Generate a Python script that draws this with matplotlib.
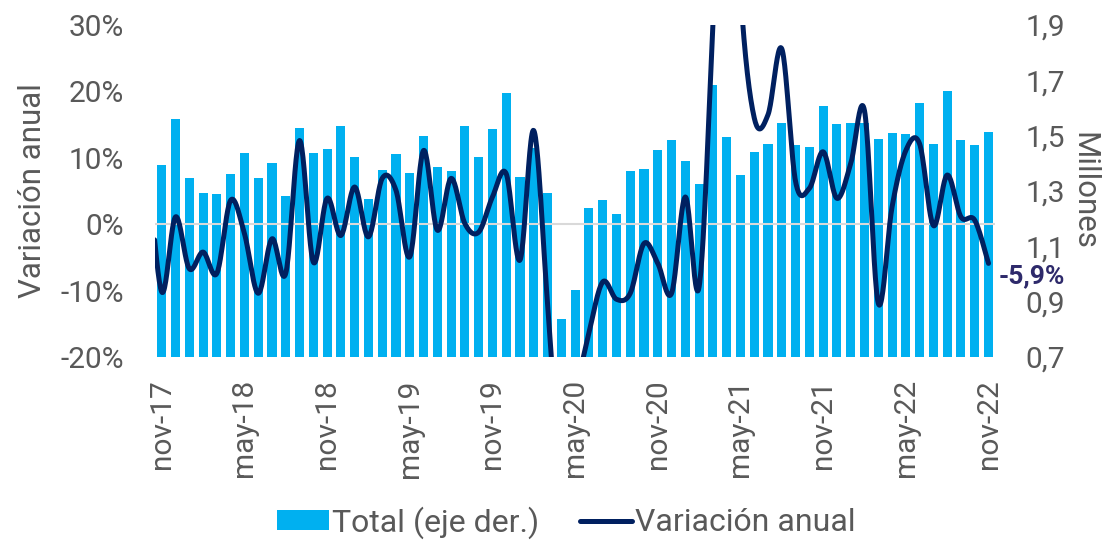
import matplotlib.pyplot as plt
import numpy as np

plt.rcParams['font.family'] = ['Roboto', 'DejaVu Sans']

# Datos: nov-17 a nov-22 (mensual)
meses = ["nov-17", "may-18", "nov-18", "may-19", "nov-19", "may-20",
         "nov-20", "may-21", "nov-21", "may-22", "nov-22"]

total = [1.395, 1.559, 1.347, 1.293, 1.288, 1.361, 1.437, 1.346, 1.400, 1.283,
         1.528, 1.437, 1.451, 1.536, 1.424, 1.270, 1.376, 1.434, 1.366, 1.499,
         1.388, 1.371, 1.535, 1.424, 1.523, 1.654, 1.349, 1.454, 1.294, 0.837,
         0.941, 1.237, 1.266, 1.217, 1.372, 1.379, 1.447, 1.483, 1.408, 1.324,
         1.684, 1.495, 1.359, 1.442, 1.470, 1.545, 1.466, 1.459, 1.608, 1.542,
         1.545, 1.545, 1.488, 1.510, 1.507, 1.618, 1.470, 1.661, 1.483, 1.467,
         1.513]

# variacion anual (%), el primer valor es oct-17 (fuera del grafico)
variacion = [9.0,
             -10.2, 1.1, -6.7, -4.2, -7.4, 3.6, -1.4, -10.4, -2.2, -7.4,
             12.6, -5.7, 3.9, -1.7, 5.6, -1.9, 6.9, 5.1, -4.9, 11.1,
             -0.9, 6.9, 0.1, -1.2, 4.1, 7.6, -5.4, 14.1, -11.9, -38.0,
             -26.0, -16.4, -8.7, -11.3, -10.4, -2.9, -5.9, -10.4, 4.1, -9.4,
             30.0, 79.0, 35.0, 16.0, 16.5, 26.4, 6.4, 5.4, 10.9, 3.9,
             9.1, 17.1, -11.9, 2.6, 11.1, 12.1, -0.2, 7.4, 1.1, 0.6,
             -5.9]


def suavizar(x, y, n=25):
    # curva tipo "linea suavizada" de Excel (Catmull-Rom)
    x = np.asarray(x, float)
    y = np.asarray(y, float)
    px = np.concatenate([[x[0]], x, [x[-1]]])
    py = np.concatenate([[y[0]], y, [y[-1]]])
    xs, ys = [], []
    t = np.linspace(0, 1, n)
    for i in range(1, len(px) - 2):
        p0, p1, p2, p3 = (np.array([px[j], py[j]]) for j in range(i - 1, i + 3))
        c1 = p1 + (p2 - p0) / 6
        c2 = p2 - (p3 - p1) / 6
        pts = (np.outer((1 - t) ** 3, p1) + np.outer(3 * (1 - t) ** 2 * t, c1)
               + np.outer(3 * (1 - t) * t ** 2, c2) + np.outer(t ** 3, p2))
        xs.extend(pts[:, 0])
        ys.extend(pts[:, 1])
    return np.array(xs), np.array(ys)


x = np.arange(len(total))
xl = np.arange(-1, len(total))
sx, sy = suavizar(xl, variacion)

gris = "#595959"
fig = plt.figure(figsize=(11.06, 5.43), dpi=100)
ax = fig.add_axes([0.140, 0.3425, 0.760, 0.6115])
ax2 = ax.twinx()

ax2.bar(x, total, width=0.66, color="#00B0F0", label="Total (eje der.)")
ax2.set_ylim(0.7, 1.9)
ax2.set_yticks(np.arange(0.7, 1.91, 0.2))
ax2.set_yticklabels([f"{v:.1f}".replace(".", ",") for v in np.arange(0.7, 1.91, 0.2)])
ax2.set_ylabel("Millones", rotation=270, fontsize=22.5, color=gris, labelpad=24)

ax.axhline(0, color="#d9d9d9", lw=1.5, zorder=1)
ax.plot(sx, sy, color="#002060", lw=3.6, label="Variación anual",
        solid_capstyle="round", zorder=3)
ax.set_ylim(-20, 30)
ax.set_yticks(range(-20, 31, 10))
ax.set_yticklabels([f"{v}%" for v in range(-20, 31, 10)])
ax.set_ylabel("Variación anual", fontsize=22.5, color=gris, labelpad=10)
ax.set_xlim(-0.5, len(total) - 0.5)
ax.set_xticks(range(0, len(total), 6))
ax.set_xticklabels(meses, rotation=90)

ax.set_zorder(ax2.get_zorder() + 1)
ax.patch.set_visible(False)

for a in (ax, ax2):
    for s in a.spines.values():
        s.set_visible(False)
    a.tick_params(length=0, labelsize=21.5, labelcolor=gris)
ax.tick_params(axis="y", pad=22)
ax.tick_params(axis="x", pad=16)
ax2.tick_params(axis="y", pad=21.5)

ax.text(len(total) - 0.25, -7.8, "-5,9%", color="#2E2A6B", fontsize=19,
        fontweight="bold", ha="left", va="center")

h1, l1 = ax2.get_legend_handles_labels()
h2, l2 = ax.get_legend_handles_labels()
fig.legend(h1 + h2, l1 + l2, loc="center", bbox_to_anchor=(0.512, 0.038),
           ncol=2, frameon=False, fontsize=23, handlelength=1.63,
           handleheight=0.55, handletextpad=0.1, columnspacing=1.28,
           labelcolor=gris)

fig.savefig("out.png", dpi=100)
